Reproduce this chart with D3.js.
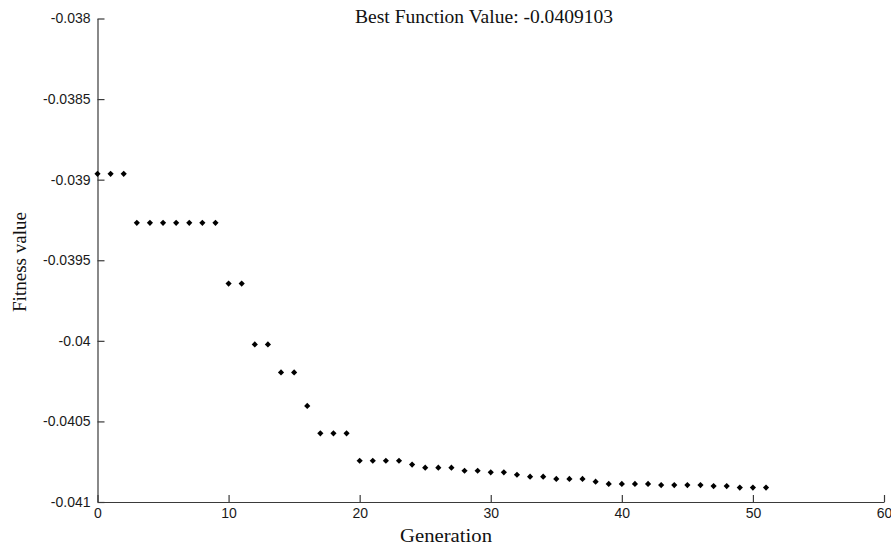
<!DOCTYPE html>
<html>
<head>
<meta charset="utf-8">
<script src="https://cdn.jsdelivr.net/npm/d3@7/dist/d3.min.js"></script>
<style>
  html, body { margin: 0; padding: 0; background: #fff; }
  svg { display: block; }
</style>
</head>
<body>
<svg id="chart" width="891" height="546"></svg>
<script>
// Best fitness per generation of the genetic algorithm run
const generations = d3.range(0, 52);
const fitness = [
  -0.038964, -0.038964, -0.038964,
  -0.039268, -0.039268, -0.039268, -0.039268, -0.039268, -0.039268, -0.039268,
  -0.039645, -0.039645,
  -0.040022, -0.040022,
  -0.040196, -0.040196,
  -0.040404,
  -0.040574, -0.040574, -0.040574,
  -0.040744, -0.040744, -0.040744, -0.040744,
  -0.040768,
  -0.040787, -0.040787, -0.040787,
  -0.040806, -0.040806,
  -0.040816, -0.040816,
  -0.040831,
  -0.040843, -0.040843,
  -0.040857, -0.040857, -0.040857,
  -0.040874,
  -0.040888, -0.040888, -0.040888, -0.040888,
  -0.040895, -0.040895, -0.040895, -0.040895,
  -0.040901, -0.040901,
  -0.0409103, -0.0409103, -0.0409103
];
const xTicks = [0, 10, 20, 30, 40, 50, 60];
const yTicks = [-0.041, -0.0405, -0.04, -0.0395, -0.039, -0.0385, -0.038];
const bestValue = fitness[fitness.length - 1];

const svg = d3.select("#chart");
const plotLeft = 97.5, plotRight = 884, plotTop = 18.5, plotBottom = 502;

const x = d3.scaleLinear().domain([0, 60]).range([plotLeft, plotRight]);
const y = d3.scaleLinear().domain([-0.041, -0.038]).range([plotBottom, plotTop]);

const axisColor = "#3a3a3a";
const tickFont = "'Liberation Sans', Arial, sans-serif";

// x axis with inward ticks
const xAxis = svg.append("g")
  .attr("transform", `translate(0,${plotBottom})`)
  .call(d3.axisBottom(x).tickValues(xTicks).tickSizeInner(-7).tickSizeOuter(0)
    .tickPadding(6).tickFormat(d3.format("d")));
xAxis.select(".domain").attr("stroke", axisColor).attr("stroke-width", 1.2);
xAxis.selectAll(".tick line").attr("stroke", axisColor).attr("stroke-width", 1.2);
xAxis.selectAll(".tick text")
  .attr("fill", "#1a1a1a")
  .style("font-family", tickFont)
  .style("font-size", "14px");

// y axis with inward ticks
const yAxis = svg.append("g")
  .attr("transform", `translate(${plotLeft},0)`)
  .call(d3.axisLeft(y).tickValues(yTicks).tickSizeInner(-7).tickSizeOuter(0)
    .tickPadding(7).tickFormat(d => String(+d.toPrecision(6))));
yAxis.select(".domain").attr("stroke", axisColor).attr("stroke-width", 1.2);
yAxis.selectAll(".tick line").attr("stroke", axisColor).attr("stroke-width", 1.2);
yAxis.selectAll(".tick text")
  .attr("fill", "#1a1a1a")
  .style("font-family", tickFont)
  .style("font-size", "14px");

// diamond markers
const diamond = d3.symbol().type(d3.symbolSquare).size(19);
svg.append("g").selectAll("path")
  .data(generations.map((g, i) => ({ g, v: fitness[i] })))
  .join("path")
  .attr("d", diamond)
  .attr("transform", d => `translate(${x(d.g)},${y(d.v)}) rotate(45)`)
  .attr("fill", "#000");

const serif = "'Liberation Serif', 'Times New Roman', serif";

svg.append("text")
  .attr("x", 355).attr("y", 23)
  .attr("textLength", 258).attr("lengthAdjust", "spacingAndGlyphs")
  .style("font-family", serif).style("font-size", "18px").attr("fill", "#111")
  .text(`Best Function Value: ${bestValue}`);

svg.append("text")
  .attr("x", 400).attr("y", 542)
  .attr("textLength", 92).attr("lengthAdjust", "spacingAndGlyphs")
  .style("font-family", serif).style("font-size", "19px").attr("fill", "#111")
  .text("Generation");

svg.append("text")
  .attr("transform", "translate(26,312) rotate(-90)")
  .attr("textLength", 100).attr("lengthAdjust", "spacingAndGlyphs")
  .style("font-family", serif).style("font-size", "19px").attr("fill", "#111")
  .text("Fitness value");
</script>
</body>
</html>
